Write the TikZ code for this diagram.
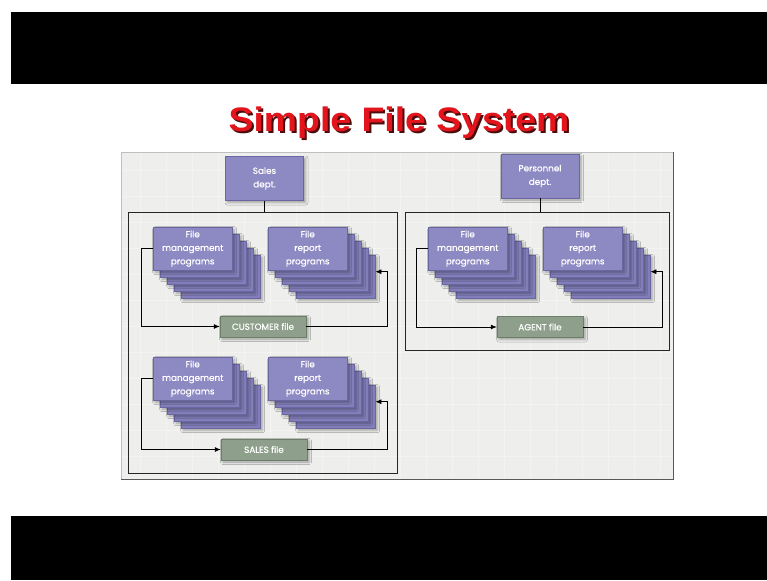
\documentclass[tikz,border=0pt]{standalone}
\usepackage{fontspec}
\setmainfont{Liberation Sans}
\newfontfamily\boxface{Poppins}[FakeBold=0.6]
\usetikzlibrary{arrows.meta,shadows.blur}

\definecolor{prog}{HTML}{8D89C3}
\definecolor{progback}{HTML}{827EBA}
\definecolor{progline}{HTML}{6A66A2}
\definecolor{filebox}{HTML}{8EA08B}
\definecolor{fileline}{HTML}{6C7E69}
\definecolor{panel}{HTML}{EEEEEC}
\definecolor{titlered}{HTML}{E3141B}
\definecolor{titleshade}{HTML}{4A0C0C}

\tikzset{
  boxfont/.style={font=\boxface\fontsize{8.8}{13.5}\selectfont},
  softshadow/.style={blur shadow={shadow xshift=2pt, shadow yshift=-2pt,
      shadow blur radius=2.5pt, shadow opacity=35}},
  dept/.style={boxfont, draw=progline, fill=prog, text=white, align=center,
      minimum width=78pt, minimum height=44pt, inner sep=0pt, softshadow},
  layer/.style={draw=progline, fill=progback, minimum width=79pt,
      minimum height=43pt, inner sep=0pt, softshadow},
  frontlayer/.style={layer, fill=prog, boxfont, text=white, align=center},
  datafile/.style={boxfont, draw=fileline, fill=filebox, text=white,
      minimum width=86pt, minimum height=21pt, inner sep=0pt, softshadow},
  group/.style={draw=black!85, line width=0.8pt, inner sep=0pt},
  flow/.style={-{Latex[length=6pt,width=5pt]}, line width=0.8pt},
  link/.style={line width=0.8pt}
}

% a pile of program sheets: name, top-left x, top-left y, label
\newcommand\progpile[4]{%
  \foreach \k in {4,3,2,1}{
    \node[layer, anchor=north west] (#1-\k) at (#2+7*\k, #3+7*\k) {};
  }
  \node[frontlayer, anchor=north west] (#1) at (#2,#3) {#4};
}

\begin{document}
\begin{tikzpicture}[x=1pt,y=-1pt]
  \useasboundingbox (0,0) rectangle (767,580);
  \fill[white] (0,0) rectangle (767,580);

  % black bands
  \fill[black] (11,12) rectangle (767,84);
  \fill[black] (11,516) rectangle (767,580);

  % title with its drop shade
  \node[anchor=base, text=titleshade, xscale=1.1,
        font=\fontsize{34}{40}\bfseries\selectfont] at (401,134) {Simple File System};
  \node[anchor=base, text=titlered, xscale=1.1,
        font=\fontsize{34}{40}\bfseries\selectfont] (title) at (399,132) {Simple File System};

  % drawing panel
  \fill[panel] (121,152) rectangle (673,479);
  \foreach \gx in {140,166,...,660}
    \draw[white, opacity=0.35, line width=1pt] (\gx,153) -- (\gx,478);
  \foreach \gy in {170,196,...,470}
    \draw[white, opacity=0.35, line width=1pt] (122,\gy) -- (672,\gy);
  \draw[black!25] (121,479) -- (121,152) -- (673,152);
  \draw[black!65, line width=1pt] (673,152) -- (673,479) -- (121,479);

  % group frames
  \node[group, anchor=north west, minimum width=269pt, minimum height=261pt] (lgroup) at (128,212) {};
  \node[group, anchor=north west, minimum width=264pt, minimum height=138pt] (rgroup) at (405,212) {};

  % departments
  \node[dept] (sales) at (264.5,178.5) {Sales\\dept.};
  \node[dept] (personnel) at (540,176) {Personnel\\dept.};
  \draw[link] (sales.south) -- (sales.south |- lgroup.north);
  \draw[link] (personnel.south) -- (personnel.south |- rgroup.north);

  % program piles
  \progpile{lm}{153}{227}{File\\management\\programs}
  \progpile{lr}{268}{227}{File\\report\\programs}
  \progpile{lmb}{153}{357}{File\\management\\programs}
  \progpile{lrb}{268}{357}{File\\report\\programs}
  \progpile{rm}{428}{227}{File\\management\\programs}
  \progpile{rr}{543}{227}{File\\report\\programs}

  % data files
  \node[datafile] (customer) at (263,326.5) {CUSTOMER file};
  \node[datafile] (salesfile) at (264,449.5) {SALES file};
  \node[datafile] (agent) at (540,327) {AGENT file};

  % data flows
  \draw[flow] (lm.west) -- ++(-12,0) |- (customer.west);
  \draw[flow] (customer.east) -| ([xshift=12pt,yshift=5pt]lr-4.east) -- ([yshift=5pt]lr-4.east);

  \draw[flow] (lmb.west) -- ++(-12,0) |- (salesfile.west);
  \draw[flow] (salesfile.east) -| ([xshift=12pt,yshift=5pt]lrb-4.east) -- ([yshift=5pt]lrb-4.east);

  \draw[flow] (rm.west) -- ++(-12,0) |- (agent.west);
  \draw[flow] (agent.east) -| ([xshift=12pt,yshift=5pt]rr-4.east) -- ([yshift=5pt]rr-4.east);
\end{tikzpicture}
\end{document}
